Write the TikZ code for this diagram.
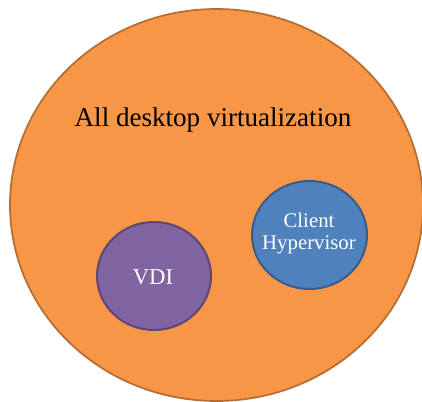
\documentclass[tikz,border=0pt]{standalone}
\usepackage{fontspec}
\setmainfont{Liberation Serif}
\definecolor{orfill}{HTML}{F79646}
\definecolor{ordraw}{HTML}{B66D31}
\definecolor{pufill}{HTML}{8064A2}
\definecolor{pudraw}{HTML}{5C4776}
\definecolor{blfill}{HTML}{4F81BD}
\definecolor{bldraw}{HTML}{385D8A}
\begin{document}
\begin{tikzpicture}[x=0.75pt,y=-0.75pt,
  lbl/.style={inner sep=0pt, align=center}]
\useasboundingbox (0,0) rectangle (422,402);
\path[fill=orfill, draw=ordraw, line width=1.3pt] (216.5,205) ellipse [x radius=206.5, y radius=196];
\path[fill=pufill, draw=pudraw, line width=1.5pt] (154,276) ellipse [x radius=57, y radius=54];
\path[fill=blfill, draw=bldraw, line width=1.5pt] (309.5,235) ellipse [x radius=57.5, y radius=54];
\node[lbl, font=\fontsize{20.3}{24}\selectfont] (all) at (213,120) {All desktop virtualization};
\node[lbl, text=white, font=\fontsize{17}{20}\selectfont] (vdi) at (153,277) {VDI};
\node[lbl, text=white, font=\fontsize{15.6}{16.5}\selectfont] (ch) at (309,234) {Client\\Hypervisor};
\end{tikzpicture}
\end{document}
